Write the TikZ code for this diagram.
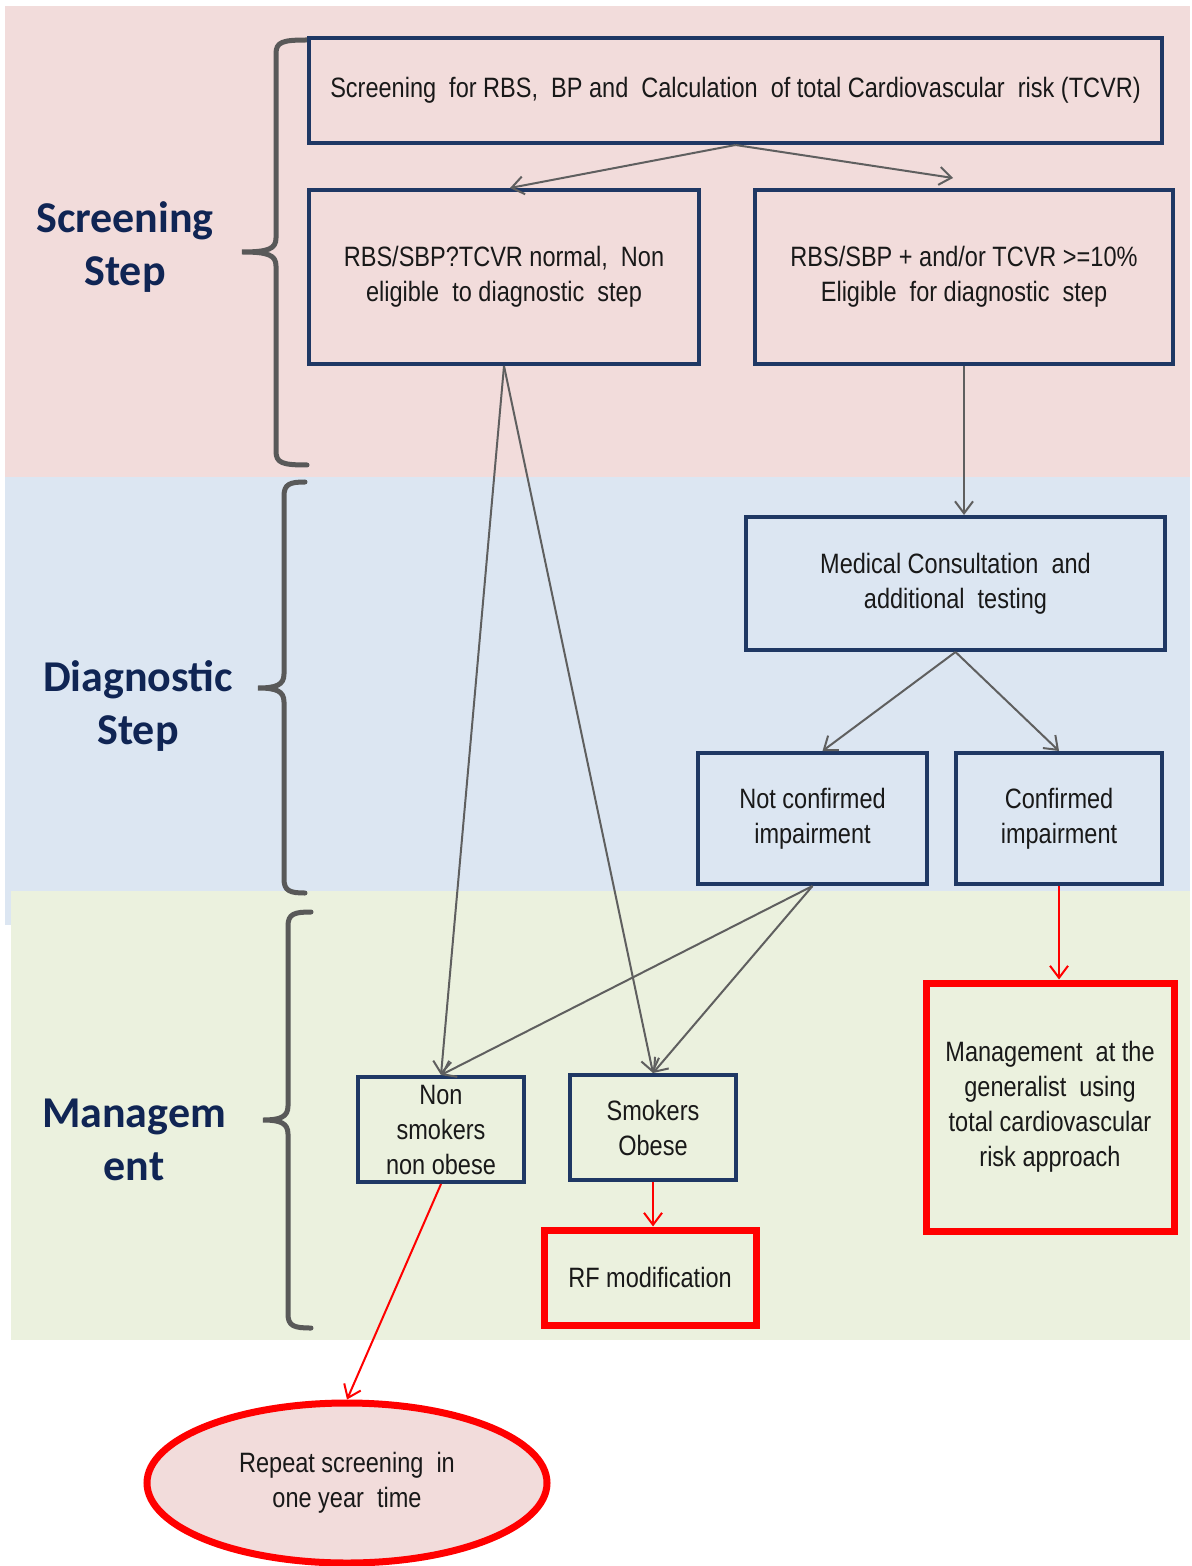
\documentclass[tikz,border=0pt]{standalone}
\usepackage{fontspec}
\setmainfont{Liberation Sans}[FakeStretch=0.84]
\newfontfamily\lblfont{Carlito}
\usetikzlibrary{arrows.meta,shapes.geometric}
\definecolor{bandpink}{RGB}{242,220,219}
\definecolor{bandblue}{RGB}{220,230,242}
\definecolor{bandgreen}{RGB}{235,241,222}
\definecolor{navy}{RGB}{31,56,100}
\definecolor{lblnavy}{RGB}{16,37,84}
\definecolor{arrgray}{RGB}{95,95,95}
\definecolor{bracegray}{RGB}{89,89,89}
\newcommand\stagebrace[6]{%
  \draw[bracestyle] (#1,#4) .. controls (#2+6,#4) and (#2,#4+2) .. (#2,#4+14)
    -- (#2,#5-14) .. controls (#2,#5-3) and (#2-8,#5) .. (#3,#5)
    .. controls (#2-8,#5) and (#2,#5+3) .. (#2,#5+14)
    -- (#2,#6-14) .. controls (#2,#6-2) and (#2+6,#6) .. (#1,#6);}
\begin{document}
\begin{tikzpicture}[x=0.5pt,y=-0.5pt,
  box/.style={draw=navy, line width=2pt, inner sep=0pt, align=center,
    font=\fontsize{14pt}{17.5pt}\selectfont, text=black!90},
  redbox/.style={box, draw=red, line width=3.5pt},
  garrow/.style={draw=arrgray, line width=1pt, -{Straight Barb[length=6pt,width=9pt]}},
  rarrow/.style={garrow, draw=red},
  stepname/.style={font=\lblfont\bfseries\fontsize{22pt}{26.5pt}\selectfont, text=lblnavy, align=center},
  bracestyle/.style={draw=bracegray, line width=2.5pt, line cap=round}]
\useasboundingbox (0,0) rectangle (1191,1566);
\fill[white] (0,0) rectangle (1191,1566);
% bands
\fill[bandpink] (5,6) rectangle (1190,477);
\fill[bandblue] (5,477) rectangle (1190,925);
\fill[bandgreen] (11,891) rectangle (1190,1340);
% braces
\stagebrace{307}{276}{242}{40}{252}{465}
\stagebrace{305}{284}{258}{482}{688}{893}
\stagebrace{311}{288}{263}{912}{1120}{1328}
% stage labels
\node[stepname] (lscr) at (125,247) {Screening\\Step};
\node[stepname] (ldia) at (138,706) {Diagnostic\\Step};
\node[stepname] (lman) at (134,1140) {Managem\\ent};
% boxes
\node[box, minimum width=426.5pt, minimum height=52.5pt] (top) at (735.5,90.5)
  {Screening\ \ for RBS,\ \ BP and\ \ Calculation\ \ of total Cardiovascular\ \ risk (TCVR)};
\node[box, minimum width=195pt, minimum height=87pt] (nl) at (504,277)
  {RBS/SBP?TCVR normal,\ \ Non\\eligible\ \ to diagnostic\ \ step};
\node[box, minimum width=209pt, minimum height=87pt] (el) at (964,277)
  {RBS/SBP + and/or TCVR >=10\%\\Eligible\ \ for diagnostic\ \ step};
\node[box, minimum width=209.5pt, minimum height=66.5pt] (med) at (955.5,583.5)
  {Medical Consultation\ \ and\\additional\ \ testing};
\node[box, minimum width=114.5pt, minimum height=65.5pt] (nc) at (812.5,818.5)
  {Not confirmed\\impairment};
\node[box, minimum width=103pt, minimum height=65.5pt] (conf) at (1059,818.5)
  {Confirmed\\impairment};
\node[redbox, minimum width=124pt, minimum height=124pt] (mgmt) at (1050,1107)
  {Management\ \ at the\\generalist\ \ using\\total cardiovascular\\risk approach};
\node[box, minimum width=83pt, minimum height=52.5pt] (nons) at (441,1129.5)
  {Non\\smokers\\non obese};
\node[box, minimum width=83pt, minimum height=52.5pt] (smk) at (653,1127.5)
  {Smokers\\Obese};
\node[redbox, minimum width=106pt, minimum height=47.5pt] (rf) at (650,1277.5)
  {RF modification};
\node[ellipse, draw=red, line width=3.5pt, fill=bandpink, minimum width=200pt,
  minimum height=80pt, inner sep=0pt, align=center,
  font=\fontsize{14pt}{17.5pt}\selectfont, text=black!90] (rep) at (347,1483)
  {Repeat screening\ \ in\\one year\ \ time};
% connectors
\draw[garrow] (top.south) -- ([xshift=3pt]nl.north);
\draw[garrow] (top.south) -- ([xshift=-5.5pt,yshift=5pt]el.north);
\draw[garrow] (nl.south) -- (nons.north);
\draw[garrow] (nl.south) -- (smk.north);
\draw[garrow] (el.south) -- (el.south |- med.north);
\draw[garrow] (med.south) -- ([xshift=5pt]nc.north);
\draw[garrow] (med.south) -- (conf.north);
\draw[garrow] (nc.south) -- (nons.north);
\draw[garrow] (nc.south) -- (smk.north);
\draw[rarrow] (conf.south) -- (conf.south |- mgmt.north);
\draw[rarrow] (smk.south) -- (smk.south |- rf.north);
\draw[rarrow] (nons.south) -- (rep.north);
\end{tikzpicture}
\end{document}
